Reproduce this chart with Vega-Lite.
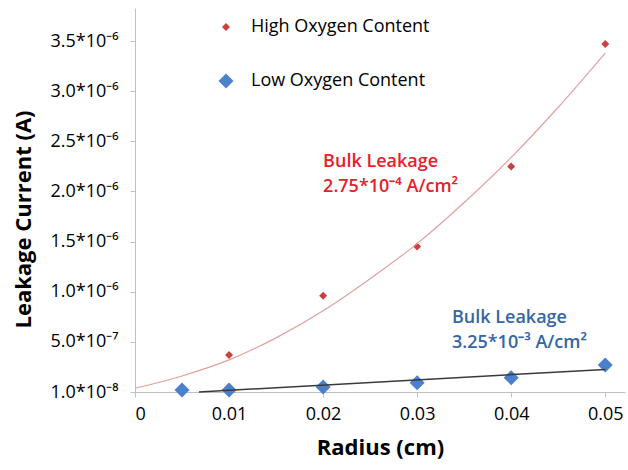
{
  "$schema": "https://vega.github.io/schema/vega-lite/v6.json",
  "width": 490,
  "height": 384,
  "autosize": {"type": "none"},
  "padding": {"left": 135, "top": 8, "right": 3, "bottom": 78},
  "background": "white",
  "config": {
    "view": {"stroke": null},
    "font": "Open Sans",
    "axis": {
      "grid": false,
      "domainColor": "#c0c0c0",
      "tickColor": "#c0c0c0",
      "tickSize": 5,
      "labelFont": "Open Sans",
      "labelFontSize": 18,
      "labelColor": "#000000",
      "titleFont": "Open Sans",
      "titleFontSize": 22,
      "titleFontWeight": "bold",
      "titleColor": "#000000"
    },
    "legend": {
      "labelFont": "Open Sans",
      "labelFontSize": 18,
      "labelColor": "#000000",
      "labelLimit": 0
    }
  },
  "datasets": {
    "pts": [
      {"radius": 0.01, "current": 3.69e-7, "series": "High Oxygen Content"},
      {"radius": 0.02, "current": 9.6e-7, "series": "High Oxygen Content"},
      {"radius": 0.03, "current": 1.45e-6, "series": "High Oxygen Content"},
      {"radius": 0.04, "current": 2.25e-6, "series": "High Oxygen Content"},
      {"radius": 0.05, "current": 3.47e-6, "series": "High Oxygen Content"},
      {"radius": 0.005, "current": 2.0e-8, "series": "Low Oxygen Content"},
      {"radius": 0.01, "current": 2.0e-8, "series": "Low Oxygen Content"},
      {"radius": 0.02, "current": 5.0e-8, "series": "Low Oxygen Content"},
      {"radius": 0.03, "current": 9.3e-8, "series": "Low Oxygen Content"},
      {"radius": 0.04, "current": 1.43e-7, "series": "Low Oxygen Content"},
      {"radius": 0.05, "current": 2.7e-7, "series": "Low Oxygen Content"}
    ],
    "highCurve": [
      {"radius": 0.0, "current": 3.7e-8},
      {"radius": 0.005, "current": 1.6e-7},
      {"radius": 0.01, "current": 3.2e-7},
      {"radius": 0.015, "current": 5.4e-7},
      {"radius": 0.02, "current": 8.1e-7},
      {"radius": 0.025, "current": 1.13e-6},
      {"radius": 0.03, "current": 1.48e-6},
      {"radius": 0.035, "current": 1.89e-6},
      {"radius": 0.04, "current": 2.34e-6},
      {"radius": 0.045, "current": 2.84e-6},
      {"radius": 0.05, "current": 3.38e-6}
    ],
    "notesHigh": [
      {"radius": 0.02, "current": 2.295e-6, "label": "Bulk Leakage"},
      {"radius": 0.02, "current": 2.046e-6, "label": "2.75*10⁻⁴ A/cm²"}
    ],
    "notesLow": [
      {"radius": 0.0337, "current": 7.39e-7, "label": "Bulk Leakage"},
      {"radius": 0.0337, "current": 4.89e-7, "label": "3.25*10⁻³ A/cm²"}
    ]
  },
  "layer": [
    {
      "data": {"name": "pts"},
      "mark": {"type": "point", "filled": true, "opacity": 1, "shape": "diamond"},
      "encoding": {
        "x": {
          "field": "radius", "type": "quantitative",
          "scale": {"domain": [0, 0.0521], "nice": false, "zero": false},
          "axis": {
            "title": "Radius (cm)",
            "values": [0, 0.01, 0.02, 0.03, 0.04, 0.05],
            "labelExpr": "datum.value == 0 ? '0' : format(datum.value, '.2f')",
            "labelPadding": 8,
            "titlePadding": 14
          }
        },
        "y": {
          "field": "current", "type": "quantitative",
          "scale": {"domain": [0, 3.83e-6], "nice": false},
          "axis": {
            "title": "Leakage Current (A)",
            "values": [0, 5e-7, 1e-6, 1.5e-6, 2e-6, 2.5e-6, 3e-6, 3.5e-6],
            "labelExpr": "datum.value == 0 ? '1.0*10⁻⁸' : (datum.value < 9e-7 ? '5.0*10⁻⁷' : format(datum.value * 1e6, '.1f') + '*10⁻⁶')",
            "labelPadding": 12,
            "titlePadding": 14,
            "titleY": 211
          }
        },
        "color": {
          "field": "series", "type": "nominal",
          "scale": {"domain": ["High Oxygen Content", "Low Oxygen Content"], "range": ["#c8413f", "#4a80cc"]},
          "legend": {
            "title": null,
            "orient": "none",
            "legendX": 82,
            "legendY": 10,
            "rowPadding": 36,
            "labelOffset": 16,
            "symbolType": "diamond"
          }
        },
        "size": {
          "field": "series", "type": "nominal",
          "scale": {"domain": ["High Oxygen Content", "Low Oxygen Content"], "range": [64, 225]},
          "legend": {
            "title": null,
            "orient": "none",
            "legendX": 82,
            "legendY": 10,
            "rowPadding": 36,
            "labelOffset": 16,
            "symbolType": "diamond"
          }
        }
      }
    },
    {
      "data": {"name": "highCurve"},
      "mark": {"type": "line", "color": "#e3a0a0", "strokeWidth": 1.2, "interpolate": "monotone"},
      "encoding": {
        "x": {"field": "radius", "type": "quantitative"},
        "y": {"field": "current", "type": "quantitative"}
      }
    },
    {
      "data": {"name": "pts"},
      "transform": [
        {"filter": "datum.series == 'Low Oxygen Content'"},
        {"regression": "current", "on": "radius", "method": "linear", "extent": [0.0068, 0.05]}
      ],
      "mark": {"type": "line", "color": "#3a3a3a", "strokeWidth": 1.5},
      "encoding": {
        "x": {"field": "radius", "type": "quantitative"},
        "y": {"field": "current", "type": "quantitative"}
      }
    },
    {
      "data": {"name": "notesHigh"},
      "mark": {"type": "text", "align": "left", "baseline": "middle", "font": "Open Sans", "fontSize": 18, "fontWeight": 600, "color": "#e8202a"},
      "encoding": {
        "x": {"field": "radius", "type": "quantitative"},
        "y": {"field": "current", "type": "quantitative"},
        "text": {"field": "label"}
      }
    },
    {
      "data": {"name": "notesLow"},
      "mark": {"type": "text", "align": "left", "baseline": "middle", "font": "Open Sans", "fontSize": 18, "fontWeight": 600, "color": "#3565a5"},
      "encoding": {
        "x": {"field": "radius", "type": "quantitative"},
        "y": {"field": "current", "type": "quantitative"},
        "text": {"field": "label"}
      }
    }
  ]
}
